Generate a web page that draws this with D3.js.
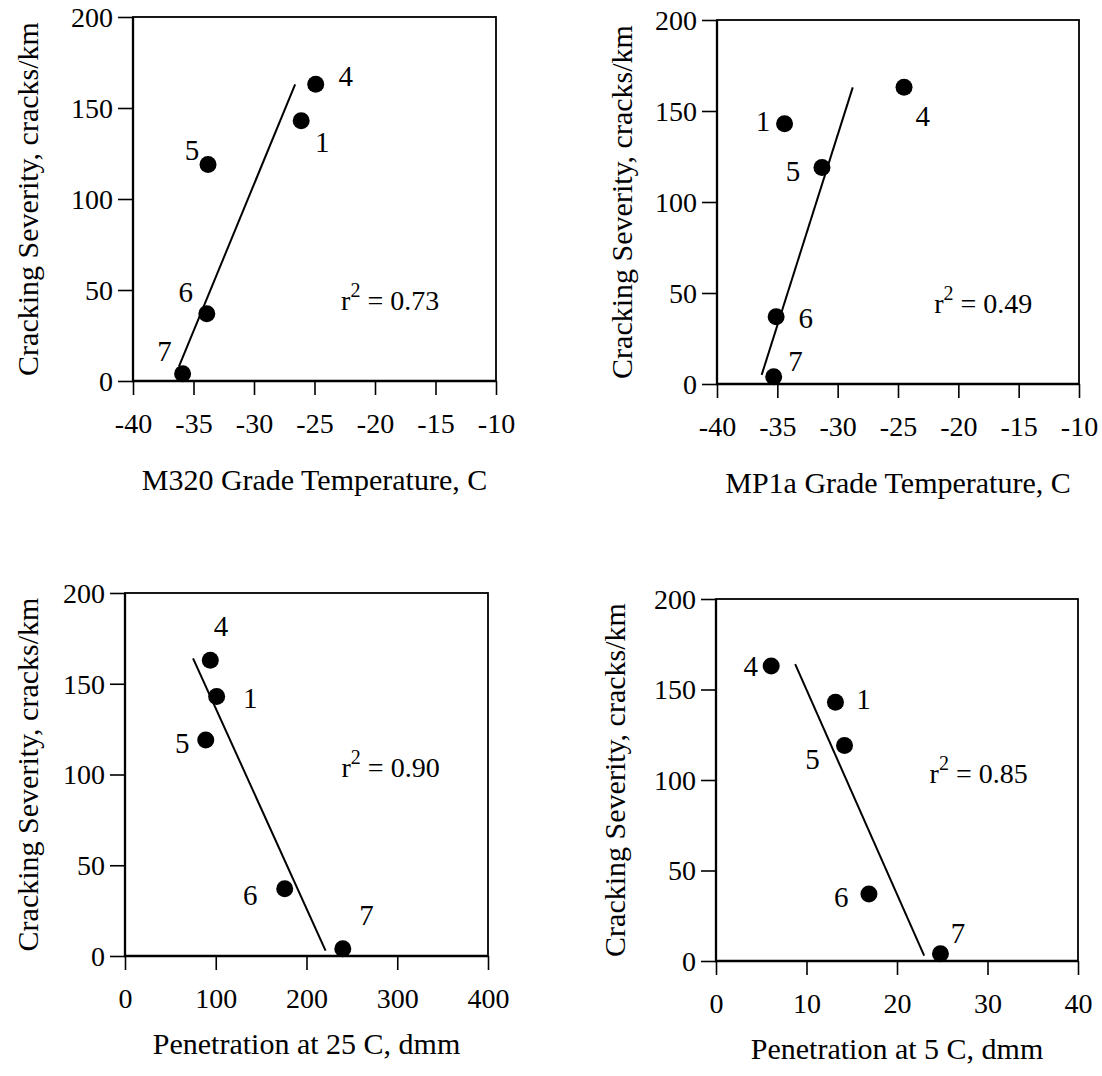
<!DOCTYPE html>
<html>
<head>
<meta charset="utf-8">
<script src="https://cdn.jsdelivr.net/npm/d3@7"></script>
<style>
  html, body { margin: 0; padding: 0; background: #fff; }
  svg text { font-family: "Liberation Serif", "Times New Roman", serif; fill: #000; }
</style>
</head>
<body>
<svg id="chart" width="1102" height="1076"></svg>
<script>
// Test sites and their measured cracking severity (cracks/km)
const siteIds = ["1", "4", "5", "6", "7"];
const crackSeverity = [143, 163, 119, 37, 4];

// Binder properties at each site (same order as siteIds)
const m320GradeTemp = [-26.1, -24.9, -33.8, -33.9, -35.9];
const mp1aGradeTemp = [-34.4, -24.5, -31.3, -35.1, -35.3];
const penetration25C = [101, 94, 89, 176, 240];
const penetration5C = [13.2, 6.1, 14.2, 16.9, 24.8];

// End points of the fitted trend line in each panel
const m320FitX = [-36.2, -26.6];
const m320FitY = [8, 163];
const mp1aFitX = [-36.3, -28.75];
const mp1aFitY = [5, 163];
const pen25FitX = [75, 221];
const pen25FitY = [164, 3];
const pen5FitX = [8.75, 23.0];
const pen5FitY = [164, 3];

// Coefficient of determination per panel
const rSquared = ["0.73", "0.49", "0.90", "0.85"];

// Axis ticks
const tempTicks = [-40, -35, -30, -25, -20, -15, -10];
const pen25Ticks = [0, 100, 200, 300, 400];
const pen5Ticks = [0, 10, 20, 30, 40];
const severityTicks = [0, 50, 100, 150, 200];

const xTitles = [
  "M320 Grade Temperature, C",
  "MP1a Grade Temperature, C",
  "Penetration at 25 C, dmm",
  "Penetration at 5 C, dmm"
];
const yTitle = "Cracking Severity, cracks/km";

// Panel layout: plot frame in pixels, title gaps, annotation anchor and
// site-label offsets (label centre relative to the dot, in px)
const panels = [
  {
    xs: m320GradeTemp, domain: [-40, -10], ticks: tempTicks,
    fitX: m320FitX, fitY: m320FitY, r2: rSquared[0], title: xTitles[0],
    box: { left: 133, top: 17, width: 363, height: 364 },
    yTitleGap: 95, xTitleGap: 109, r2At: [-22.8, 39],
    labelOffsets: [[21, 21], [30, -8], [-16, -14], [-21, -22], [-18, -23]]
  },
  {
    xs: mp1aGradeTemp, domain: [-40, -10], ticks: tempTicks,
    fitX: mp1aFitX, fitY: mp1aFitY, r2: rSquared[1], title: xTitles[1],
    box: { left: 717, top: 20, width: 362, height: 364 },
    yTitleGap: 85, xTitleGap: 109, r2At: [-22.0, 39],
    labelOffsets: [[-21.5, -2.6], [18.6, 28.4], [-29, 4], [29.6, 1.6], [21.8, -16]]
  },
  {
    xs: penetration25C, domain: [0, 400], ticks: pen25Ticks,
    fitX: pen25FitX, fitY: pen25FitY, r2: rSquared[2], title: xTitles[2],
    box: { left: 125, top: 593, width: 363, height: 363 },
    yTitleGap: 87, xTitleGap: 98, r2At: [238.6, 98.6],
    labelOffsets: [[33.5, 1.7], [10.6, -34], [-23.6, 3.4], [-34.5, 6.1], [23.6, -34]]
  },
  {
    xs: penetration5C, domain: [0, 40], ticks: pen5Ticks,
    fitX: pen5FitX, fitY: pen5FitY, r2: rSquared[3], title: xTitles[3],
    box: { left: 716, top: 599, width: 362, height: 362 },
    yTitleGap: 91, xTitleGap: 98, r2At: [23.6, 98.3],
    labelOffsets: [[28, -3.4], [-20.4, 0], [-32, 13.3], [-27.8, 3.4], [17.6, -20.8]]
  }
];

const svg = d3.select("#chart");
const fmt = d => String(d);

panels.forEach(p => {
  const b = p.box;
  const g = svg.append("g").attr("transform", `translate(${b.left},${b.top})`);

  const x = d3.scaleLinear().domain(p.domain).range([0, b.width]);
  const y = d3.scaleLinear().domain([0, 200]).range([b.height, 0]);

  // Y axis
  const yAxis = g.append("g")
    .call(d3.axisLeft(y).tickValues(severityTicks).tickFormat(fmt)
      .tickSize(15).tickPadding(5));
  yAxis.select(".domain").remove();
  yAxis.selectAll(".tick line").attr("stroke", "#000").attr("stroke-width", 1.6);
  yAxis.selectAll(".tick text")
    .attr("font-family", "Liberation Serif, serif")
    .attr("font-size", 28).attr("dy", "0.33em");

  // X axis
  const xAxis = g.append("g")
    .attr("transform", `translate(0,${b.height})`)
    .call(d3.axisBottom(x).tickValues(p.ticks).tickFormat(fmt)
      .tickSize(14).tickPadding(18));
  xAxis.select(".domain").remove();
  xAxis.selectAll(".tick line").attr("stroke", "#000").attr("stroke-width", 1.6);
  xAxis.selectAll(".tick text")
    .attr("font-family", "Liberation Serif, serif")
    .attr("font-size", 28);

  // Plot frame: top and right edges slightly lighter than the axes
  g.append("rect")
    .attr("x", 0).attr("y", 0)
    .attr("width", b.width).attr("height", b.height)
    .attr("fill", "none").attr("stroke", "#000").attr("stroke-width", 1.8);
  g.append("path")
    .attr("d", `M0,0V${b.height}H${b.width}`)
    .attr("fill", "none").attr("stroke", "#000").attr("stroke-width", 2.3);

  // Trend line
  const fitPts = p.fitX.map((v, i) => [v, p.fitY[i]]);
  g.append("path")
    .datum(fitPts)
    .attr("d", d3.line().x(d => x(d[0])).y(d => y(d[1])))
    .attr("fill", "none").attr("stroke", "#000").attr("stroke-width", 2);

  // Site points
  const pts = p.xs.map((v, i) => ({ id: siteIds[i], xv: v, yv: crackSeverity[i], off: p.labelOffsets[i] }));
  g.selectAll("circle.site")
    .data(pts).join("circle")
    .attr("class", "site")
    .attr("cx", d => x(d.xv)).attr("cy", d => y(d.yv))
    .attr("r", 8.5).attr("fill", "#000");

  g.selectAll("text.site-label")
    .data(pts).join("text")
    .attr("class", "site-label")
    .attr("x", d => x(d.xv) + d.off[0])
    .attr("y", d => y(d.yv) + d.off[1])
    .attr("dy", "0.34em")
    .attr("text-anchor", "middle")
    .attr("font-size", 29)
    .text(d => d.id);

  // r-squared annotation
  const r2 = g.append("text")
    .attr("x", x(p.r2At[0])).attr("y", y(p.r2At[1]))
    .attr("font-size", 28);
  r2.append("tspan").text("r");
  r2.append("tspan").attr("font-size", 20).attr("dy", -13).text("2");
  r2.append("tspan").attr("dy", 13).text(" = " + p.r2);

  // X axis title
  g.append("text")
    .attr("x", b.width / 2).attr("y", b.height + p.xTitleGap)
    .attr("text-anchor", "middle").attr("font-size", 30)
    .text(p.title);

  // Y axis title
  g.append("text")
    .attr("transform", `translate(${-p.yTitleGap},${b.height / 2}) rotate(-90)`)
    .attr("text-anchor", "middle").attr("font-size", 30)
    .text(yTitle);
});
</script>
</body>
</html>
